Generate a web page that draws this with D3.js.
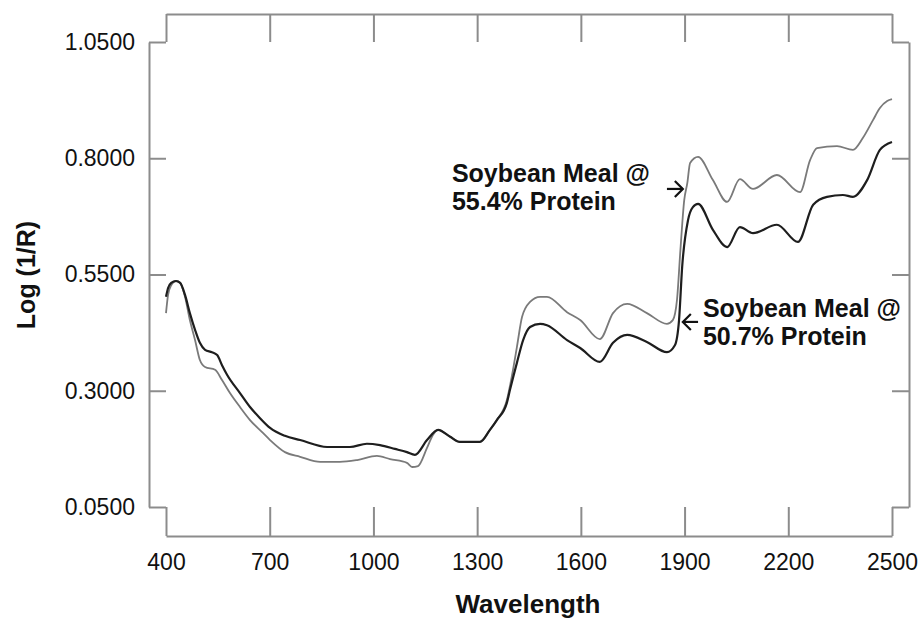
<!DOCTYPE html>
<html>
<head>
<meta charset="utf-8">
<script src="https://cdn.jsdelivr.net/npm/d3@7"></script>
<style>
  html, body { margin: 0; padding: 0; background: #fff; }
  svg { display: block; font-family: "Liberation Sans", Arial, sans-serif; }
</style>
</head>
<body>
<svg id="chart" width="920" height="618"></svg>
<script>
// ---- Data (wavelength nm, log(1/R)) ----
const xTicks = [400, 700, 1000, 1300, 1600, 1900, 2200, 2500];
const yTicks = [0.05, 0.30, 0.55, 0.80, 1.05];

const meal507Wave = [400,406,415,429,441,455,469,484,498,513,533,548,562,577,614,643,672,701,744,788,866,932,981,1019,1062,1097,1120,1155,1187,1222,1250,1308,1337,1357,1386,1395,1415,1433,1453,1482,1502,1560,1598,1655,1693,1734,1791,1849,1872,1884,1893,1910,1924,1939,1982,2023,2060,2098,2167,2228,2272,2312,2358,2387,2428,2465,2500];
const meal507Val  = [0.502,0.521,0.532,0.536,0.532,0.506,0.467,0.431,0.403,0.388,0.383,0.377,0.355,0.334,0.295,0.265,0.241,0.220,0.203,0.194,0.179,0.179,0.186,0.183,0.175,0.168,0.162,0.194,0.216,0.201,0.190,0.190,0.216,0.237,0.274,0.302,0.360,0.409,0.437,0.444,0.441,0.409,0.392,0.362,0.403,0.420,0.405,0.383,0.398,0.452,0.566,0.667,0.695,0.702,0.646,0.609,0.652,0.639,0.657,0.620,0.700,0.717,0.721,0.717,0.753,0.818,0.835];

const meal554Wave = [400,406,415,429,441,455,469,484,498,513,542,562,585,614,643,678,701,744,788,846,903,953,1010,1048,1097,1112,1129,1155,1172,1187,1222,1250,1308,1337,1357,1386,1401,1415,1430,1453,1482,1502,1560,1598,1655,1693,1734,1791,1849,1866,1878,1888,1899,1908,1916,1939,1982,2023,2060,2098,2167,2234,2263,2283,2341,2387,2416,2445,2465,2486,2500];
const meal554Val  = [0.467,0.506,0.527,0.536,0.532,0.502,0.452,0.409,0.366,0.351,0.345,0.323,0.295,0.265,0.237,0.211,0.194,0.168,0.158,0.147,0.147,0.151,0.160,0.153,0.145,0.136,0.138,0.177,0.205,0.216,0.201,0.190,0.190,0.216,0.237,0.280,0.334,0.394,0.459,0.491,0.502,0.502,0.469,0.452,0.411,0.467,0.487,0.467,0.444,0.452,0.495,0.603,0.710,0.747,0.790,0.803,0.753,0.706,0.755,0.734,0.764,0.727,0.796,0.822,0.826,0.818,0.844,0.882,0.908,0.923,0.927];

const seriesNames = ["Soybean Meal @ 50.7% Protein", "Soybean Meal @ 55.4% Protein"];
const xTitle = "Wavelength";
const yTitle = "Log (1/R)";

// ---- Layout ----
const svg = d3.select("#chart");
svg.append("rect").attr("width", 920).attr("height", 618).attr("fill", "#fff");

const x = d3.scaleLinear().domain([400, 2500]).range([166, 892]);
const y = d3.scaleLinear().domain([0.05, 1.05]).range([507, 42]);

const frameColor = "#8c8c8c";
const fmt = d3.format(".4f");

function styleAxis(g) {
  g.selectAll("path.domain").attr("stroke", frameColor).attr("stroke-width", 2);
  g.selectAll(".tick line").attr("stroke", frameColor).attr("stroke-width", 2);
  g.selectAll(".tick text").attr("fill", "#111").attr("font-size", 23)
    .attr("font-family", "Liberation Sans, Arial, sans-serif");
}

// bottom
svg.append("g").attr("transform", "translate(0,536)")
  .call(d3.axisBottom(x).tickValues(xTicks).tickSizeInner(-29).tickSizeOuter(0).tickPadding(18).tickFormat(d3.format("d")))
  .call(styleAxis);
// top
svg.append("g").attr("transform", "translate(0,14)")
  .call(d3.axisTop(x).tickValues(xTicks).tickSizeInner(-28).tickSizeOuter(0).tickFormat(""))
  .call(styleAxis);
// left
svg.append("g").attr("transform", "translate(149,0)")
  .call(d3.axisLeft(y).tickValues(yTicks).tickSizeInner(-17).tickSizeOuter(0).tickPadding(14).tickFormat(fmt))
  .call(styleAxis);
// right
svg.append("g").attr("transform", "translate(909,0)")
  .call(d3.axisRight(y).tickValues(yTicks).tickSizeInner(-17).tickSizeOuter(0).tickFormat(""))
  .call(styleAxis);

// ---- Lines ----
const line = d3.line()
  .x(d => x(d[0])).y(d => y(d[1]))
  .curve(d3.curveMonotoneX);

const s554 = meal554Wave.map((w, i) => [w, meal554Val[i]]);
const s507 = meal507Wave.map((w, i) => [w, meal507Val[i]]);

svg.append("path").datum(s554).attr("d", line)
  .attr("fill", "none").attr("stroke", "#7a7a7a").attr("stroke-width", 1.8)
  .attr("stroke-linejoin", "round");
svg.append("path").datum(s507).attr("d", line)
  .attr("fill", "none").attr("stroke", "#1e1e1e").attr("stroke-width", 2.2)
  .attr("stroke-linejoin", "round");

// ---- Titles ----
svg.append("text").attr("x", 528).attr("y", 613).attr("text-anchor", "middle")
  .attr("font-size", 26).attr("font-weight", "bold").attr("fill", "#111").text(xTitle);
svg.append("text").attr("transform", "translate(35,275) rotate(-90)").attr("text-anchor", "middle")
  .attr("font-size", 25).attr("font-weight", "bold").attr("fill", "#111").text(yTitle);

// ---- Annotations ----
function arrow(x1, y1, x2, y2) {
  const g = svg.append("g").attr("stroke", "#111").attr("stroke-width", 2.2).attr("fill", "none");
  g.append("line").attr("x1", x1).attr("y1", y1).attr("x2", x2).attr("y2", y2);
  const dir = Math.sign(x2 - x1);
  g.append("path").attr("d", `M${x2 - dir * 8},${y2 - 8} L${x2},${y2} L${x2 - dir * 8},${y2 + 8}`);
}
// upper label (55.4%)
const up = svg.append("text").attr("font-size", 25).attr("font-weight", "bold").attr("fill", "#111");
up.append("tspan").attr("x", x(1227)).attr("y", y(0.749)).text("Soybean Meal @");
up.append("tspan").attr("x", x(1227)).attr("y", y(0.689)).text("55.4% Protein");
arrow(x(1849), y(0.734), x(1895), y(0.734));

// lower label (50.7%)
const lo = svg.append("text").attr("font-size", 25).attr("font-weight", "bold").attr("fill", "#111");
lo.append("tspan").attr("x", x(1953)).attr("y", y(0.4586)).text("Soybean Meal @");
lo.append("tspan").attr("x", x(1953)).attr("y", y(0.398)).text("50.7% Protein");
arrow(x(1939), y(0.448), x(1895), y(0.448));
</script>
</body>
</html>
